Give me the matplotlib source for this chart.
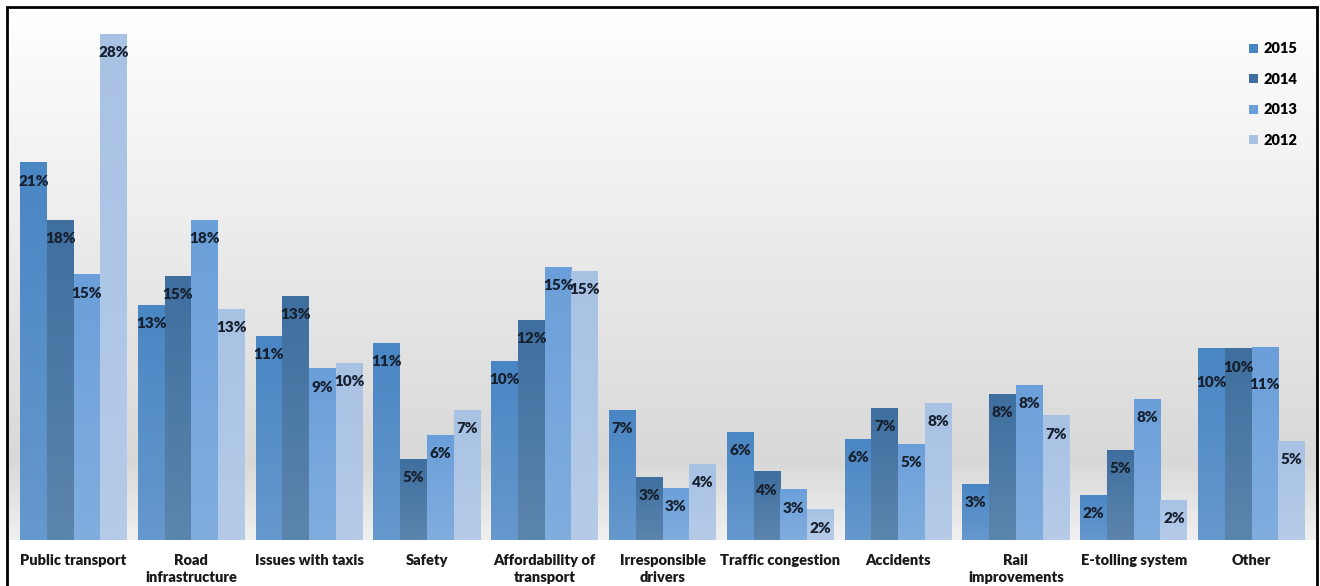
import numpy as np
import matplotlib
matplotlib.use("Agg")
from matplotlib import pyplot as plt
from matplotlib.patches import Rectangle
from matplotlib.colors import to_rgb

# categories and values (bar heights, printed labels separately)
categories = ["Public transport", "Road\ninfrastructure", "Issues with taxis", "Safety",
              "Affordability of\ntransport", "Irresponsible\ndrivers", "Traffic congestion",
              "Accidents", "Rail\nimprovements", "E-tolling system", "Other"]
years = ["2015", "2014", "2013", "2012"]

v2015 = [20.9, 13.0, 11.3, 10.9, 9.9, 7.2, 6.0, 5.6, 3.1, 2.5, 10.6]
v2014 = [17.7, 14.6, 13.5, 4.5, 12.2, 3.5, 3.8, 7.3, 8.1, 5.0, 10.6]
v2013 = [14.7, 17.7, 9.5, 5.8, 15.1, 2.9, 2.8, 5.3, 8.6, 7.8, 10.7]
v2012 = [28.0, 12.8, 9.8, 7.2, 14.9, 4.2, 1.7, 7.6, 6.9, 2.2, 5.5]

lab2015 = [21, 13, 11, 11, 10, 7, 6, 6, 3, 2, 10]
lab2014 = [18, 15, 13, 5, 12, 3, 4, 7, 8, 5, 10]
lab2013 = [15, 18, 9, 6, 15, 3, 3, 5, 8, 8, 11]
lab2012 = [28, 13, 10, 7, 15, 4, 2, 8, 7, 2, 5]

values = [v2015, v2014, v2013, v2012]
labels = [lab2015, lab2014, lab2013, lab2012]
colors = ["#4a86c4", "#3f6f9f", "#6b9fd9", "#a8c2e4"]

# labels pushed lower in the crowded "Other" group (series index, category index): points
nudge = {(0, 10): -11, (2, 10): -14}

W, H = 1320, 586
fig = plt.figure(figsize=(W / 100, H / 100), dpi=100)
fig.patch.set_facecolor("white")

# axes placed in pixels: x 8..1316, y 8..540 (from top)
ax = fig.add_axes([8 / W, (H - 540) / H, 1308 / W, 532 / H])
pitch = 117.8
x0 = 73.5
xlim = ((8 - x0) / pitch, (1316 - x0) / pitch)
ylim = (0, 532 / 18.07)

# background gradient: white top, grey lower, a bit lighter at the floor
grad = np.concatenate([np.linspace(1.0, 0.85, 85), np.linspace(0.85, 0.94, 15)])
bg = np.repeat(grad[:, None, None], 3, axis=2)
ax.imshow(bg, extent=[xlim[0], xlim[1], 0, ylim[1]],
          aspect="auto", origin="upper", zorder=0)

x = np.arange(len(categories))
bw = 0.91 / 4
for k in range(4):
    xs = x - 0.455 + bw * (k + 0.5)
    bars = ax.bar(xs, values[k], width=bw, color=colors[k], label=years[k], zorder=2,
                  linewidth=0)
    base = np.array(to_rgb(colors[k]))
    light = base + (1 - base) * 0.15
    g = np.linspace(0, 1, 50)[:, None]
    img = base[None, :] * (1 - g) + light[None, :] * g
    img = img[:, None, :]
    for b in bars:
        im = ax.imshow(img, extent=[b.get_x(), b.get_x() + b.get_width(), 0, b.get_height()],
                       aspect="auto", origin="upper", zorder=2.5)
        im.set_clip_path(b)
    for i, (xi, v, lab) in enumerate(zip(xs, values[k], labels[k])):
        dy = -13.5 + nudge.get((k, i), 0)
        ax.annotate(f"{lab}%", (xi, v), xytext=(0, dy), textcoords="offset points",
                    ha="center", va="center", fontsize=11, fontweight="heavy",
                    color="#17202e", family="Lato", zorder=4)

ax.set_xlim(*xlim)
ax.set_ylim(*ylim)
ax.set_xticks(x)
ax.set_xticklabels(categories, fontsize=10.5, fontweight="heavy", family="Lato",
                   color="#1a1a1a", linespacing=1.4, va="top")
ax.tick_params(axis="x", length=0, pad=10)
ax.set_yticks([])
for s in ax.spines.values():
    s.set_visible(False)

leg = ax.legend(loc="upper right", bbox_to_anchor=(0.9955, 0.96), frameon=False,
                handlelength=0.6, handleheight=0.6, handletextpad=0.35,
                labelspacing=1.2, prop={"family": "Lato", "weight": "heavy", "size": 10.5})

# outer border
fig.add_artist(Rectangle((7 / W, -0.01), 1310 / W, (H - 7) / H + 0.01, transform=fig.transFigure,
                         fill=False, edgecolor="black", linewidth=2))

fig.savefig("out.png", dpi=100)
